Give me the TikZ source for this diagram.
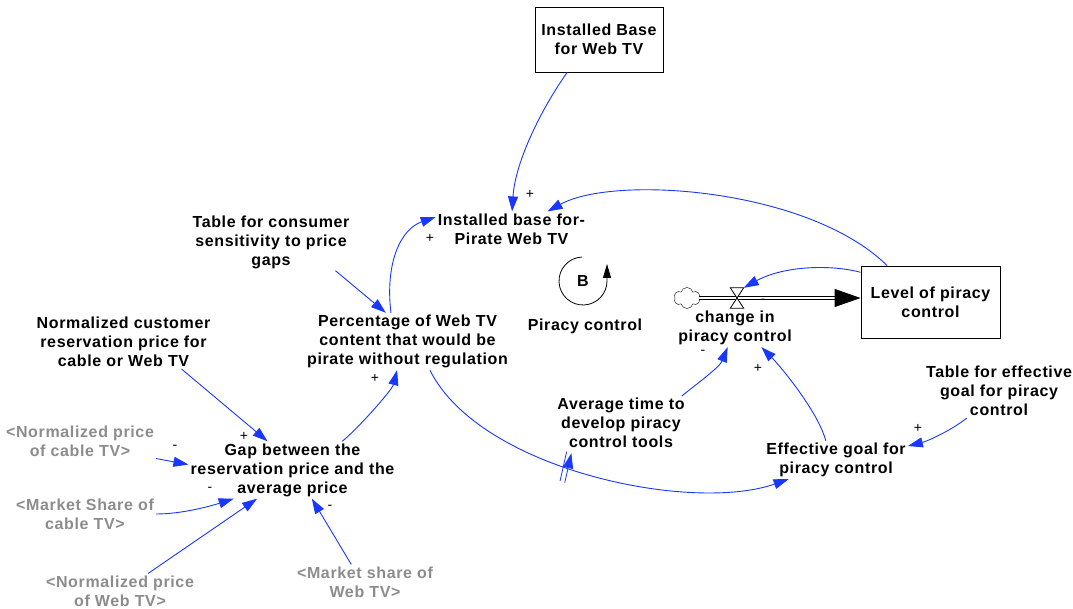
\documentclass[tikz,border=0pt]{standalone}
\usepackage{fontspec}
\setmainfont{Liberation Sans}
\newfontfamily\labelfont[LetterSpace=4]{Liberation Sans}
\usetikzlibrary{arrows.meta,shapes.symbols,decorations.markings}

\definecolor{linkblue}{RGB}{25,55,255}
\definecolor{shadowtext}{RGB}{140,140,140}

\begin{document}
\begin{tikzpicture}[x=1pt,y=-1pt,
  var/.style={font=\labelfont\fontsize{16}{19}\selectfont\bfseries, align=center, inner sep=2pt},
  shadow/.style={var, text=shadowtext},
  stock/.style={var, draw=black, line width=0.9pt},
  link/.style={draw=linkblue, line width=0.9pt, -{Triangle[length=15pt,width=10pt]}},
  pol/.style={font=\fontsize{14}{14}\selectfont, inner sep=0pt},
  pipe/.style={draw=black, line width=0.9pt, double=white, double distance=2.4pt,
    -{Triangle[length=26pt,width=18pt]}},
  delay/.style={postaction={decorate, decoration={markings,
    mark=at position 0.43 with {\draw[linkblue, line width=0.8pt]
      (-1pt,-15pt) -- (-4pt,15pt) (4pt,-15pt) -- (1pt,15pt);}}}}
]
\useasboundingbox (0,0) rectangle (1073,609);

% stocks
\node[stock, minimum width=128pt, minimum height=65pt] (ibw) at (599,39.5) {Installed Base\\for Web TV};
\node[stock, minimum width=139pt, minimum height=72pt] (lev) at (930.5,302) {Level of piracy\\control};

% auxiliaries
\node[var] (ibp) at (511.5,229) {Installed base for-\\Pirate Web TV};
\node[var] (pct) at (407.5,341.5) {Percentage of Web TV\\content that would be\\pirate without regulation};
\node[var] (tcs) at (271,242) {Table for consumer\\sensitivity to price\\gaps};
\node[var] (ncr) at (123.5,342) {Normalized customer\\reservation price for\\cable or Web TV};
\node[var] (gap) at (292.5,470) {Gap between the\\reservation price and the\\average price};
\node[var] (avg) at (621,423) {Average time to\\develop piracy\\control tools};
\node[var] (eff) at (836,460) {Effective goal for\\piracy control};
\node[var] (tef) at (999,391) {Table for effective\\goal for piracy\\control};
\node[var] (chg) at (735,328) {change in\\piracy control};

% shadow variables
\node[shadow] (npc) at (80,441) {<Normalized price\\of cable TV>};
\node[shadow] (msc) at (85,514) {<Market Share of\\cable TV>};
\node[shadow] (npw) at (120,591) {<Normalized price\\of Web TV>};
\node[shadow] (msw) at (365,582) {<Market share of\\Web TV>};

% balancing loop marker
\node[var] (loopB) at (583,281) {B};
\node[var] (loopname) at (585,326) {Piracy control};
\begin{scope}[shift={(loopB.center)}, x=1pt, y=1pt]
  \draw[line width=0.8pt, -{Triangle[length=14pt,width=8pt]}]
    (93:24) arc[start angle=93, end angle=360, radius=24] -- ++(0,17);
\end{scope}

% flow into the stock
\node[cloud, draw, cloud puffs=6, aspect=1.2, minimum width=26pt, minimum height=21pt, inner sep=0pt] (src) at (687,298) {};
\draw[pipe] (src.east) -- (src.east -| lev.west);
\node[minimum width=13pt, minimum height=20pt, inner sep=0pt] (valve) at (737,298) {};
\draw[fill=white, line width=0.8pt] (valve.north west) -- (valve.north east)
  -- (valve.south west) -- (valve.south east) -- cycle;

% causal links
\draw[link] (ibw.-134) .. controls +(-25,35) and +(3,-50) .. (ibp.88);
\draw[link] (pct.120) .. controls +(-6,-50) and +(-35,12) .. (ibp.171);
\draw[link] (lev.140) .. controls +(-78,-77) and +(67,-37) .. (ibp.26);
\draw[link] (lev.157) .. controls +(-30,-8) and +(40,-22) .. (valve.north east);
\draw[link] (tcs.-24) -- (pct.127);
\draw[link] (ncr.-25) -- (gap.131);
\draw[link] (npc.-13) -- (gap.177);
\draw[link] (msc.east) .. controls +(25,0) and +(-25,8) .. (gap.-154);
\draw[link] (npw.32) -- (gap.-141);
\draw[link] (msw.128) -- (gap.-56);
\draw[link] (gap.30) .. controls +(15,-12) and +(-5,20) .. (pct.-110);
\draw[link, delay] (pct.-52) .. controls +(50,100) and +(-97,34) .. (eff.-158);
\draw[link] (avg.24) .. controls +(15,-12) and +(-8,20) .. (chg.-111);
\draw[link] (eff.118) .. controls +(-8,-30) and +(18,18) .. (chg.-36);
\draw[link] (tef.-140) .. controls +(-15,12) and +(20,-5) .. (eff.11);

% link polarities
\node[pol] (s1) at (530,194) {+};
\node[pol] (s2) at (430,238) {+};
\node[pol] (s3) at (375,378) {+};
\node[pol] (s4) at (244,436) {+};
\node[pol] (s5) at (175,447) {-};
\node[pol] (s6) at (210,489) {-};
\node[pol] (s7) at (330,507) {-};
\node[pol] (s8) at (763,301) {-};
\node[pol] (s9) at (703,352) {-};
\node[pol] (s10) at (758,368) {+};
\node[pol] (s11) at (918,428) {+};
\end{tikzpicture}
\end{document}
